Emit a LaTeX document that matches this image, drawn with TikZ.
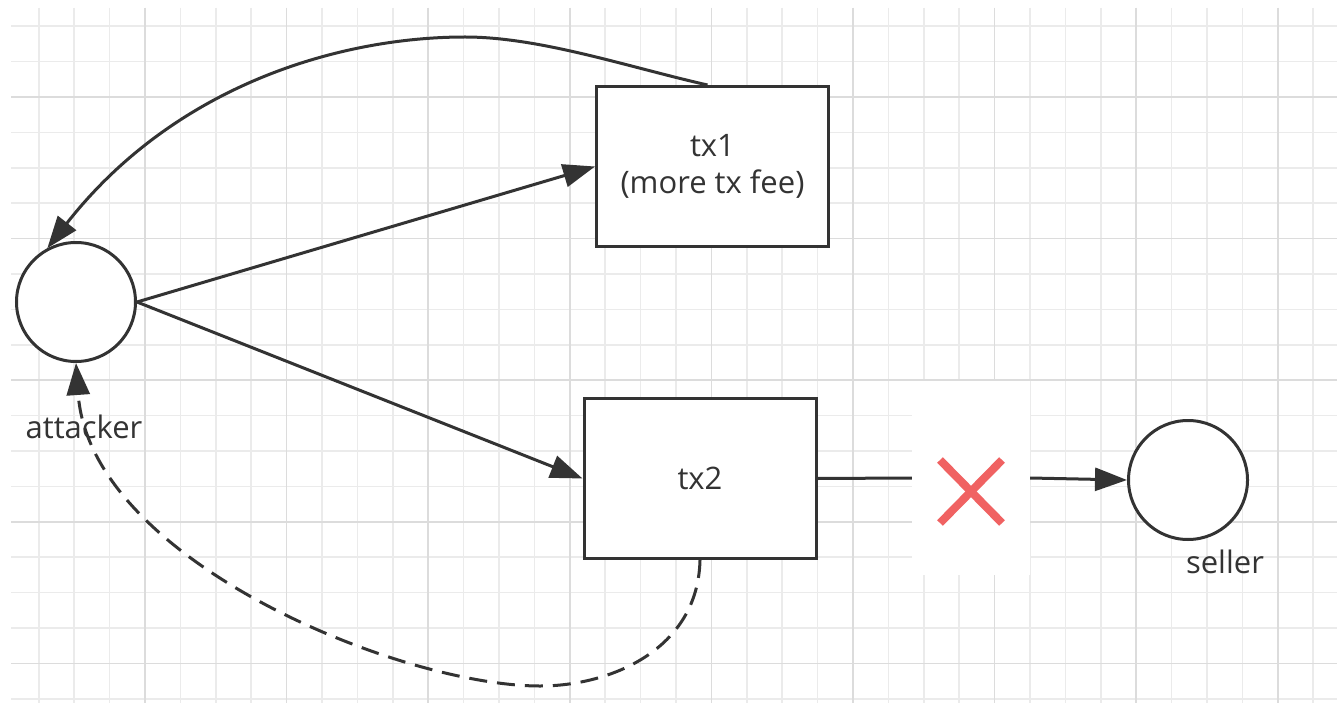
\documentclass[tikz,border=0pt]{standalone}
\usepackage{fontspec}
\setmainfont{Open Sans}
\usetikzlibrary{arrows.meta}
\definecolor{ink}{HTML}{333333}
\definecolor{gridminor}{HTML}{EBEBEB}
\definecolor{gridmajor}{HTML}{DCDCDC}
\definecolor{crossred}{HTML}{F06262}
\tikzset{
  txt/.style={font=\fontsize{31}{37}\selectfont, text=ink, inner sep=0pt},
  party/.style={circle, draw=ink, line width=3pt, fill=white, minimum size=119pt, inner sep=0pt},
  txbox/.style={rectangle, draw=ink, line width=3pt, fill=white, minimum width=232pt,
                minimum height=160pt, inner sep=0pt, align=center, txt},
  edge/.style={draw=ink, line width=3pt, -{Triangle[length=32pt,width=23pt]}},
  dashededge/.style={edge, dash pattern=on 18pt off 10pt},
  plainedge/.style={draw=ink, line width=3pt},
  cross/.style={draw=crossred, line width=8pt}
}
\begin{document}
\begin{tikzpicture}[x=1pt,y=-1pt]
\useasboundingbox (0,0) rectangle (1337,703);
\fill[white] (0,0) rectangle (1337,703);

% background grid
\begin{scope}
  \clip (11,8) rectangle (1337,703);
  \foreach \i in {-4,...,34}
    \draw[gridminor, line width=1.5pt] ({145+35.4*\i},8) -- ({145+35.4*\i},703);
  \foreach \j in {-3,...,17}
    \draw[gridminor, line width=1.5pt] (11,{97+35.4*\j}) -- (1337,{97+35.4*\j});
  \foreach \i in {-1,...,8}
    \draw[gridmajor, line width=1.5pt] ({145+141.6*\i},8) -- ({145+141.6*\i},703);
  \foreach \j in {0,...,4}
    \draw[gridmajor, line width=1.5pt] (11,{97+141.6*\j}) -- (1337,{97+141.6*\j});
\end{scope}

% parties and transactions
\node[party] (attacker) at (76,302) {};
\node[txt] (attackerlabel) at (84,427) {attacker};
\node[txbox] (tx1) at (712.5,166.5) {tx1\\(more tx fee)};
\node[txbox] (tx2) at (700,478.5) {tx2};
\node[party] (seller) at (1188,480) {};
\node[txt] (sellerlabel) at (1225,562) {seller};

% blocked payment marker
\node[rectangle, fill=white, minimum width=118pt, minimum height=194pt, inner sep=0pt] (block) at (971,478) {};
\draw[cross] ([shift={(-31,-18)}]block.center) -- ([shift={(31,45)}]block.center);
\draw[cross] ([shift={(31,-18)}]block.center) -- ([shift={(-31,45)}]block.center);

% connectors
\draw[edge] (attacker.east) -- (tx1.west);
\draw[edge] (attacker.east) -- (tx2.west);
\draw[plainedge] (tx2.east) -- (block.west);
\draw[edge] (block.east) -- (seller.west);

\coordinate (apex) at (465,37);
\draw[edge] ([xshift=-5pt]tx1.north) .. controls (628,67) and (540,37) .. (apex)
            .. controls (340,37) and (175,85) .. (attacker.118);

\coordinate (dip) at (540,686);
\draw[dashededge] (tx2.south) .. controls (698,650) and (610,686) .. (dip)
            .. controls (400,686) and (90,560) .. (attacker.south);
\end{tikzpicture}
\end{document}
